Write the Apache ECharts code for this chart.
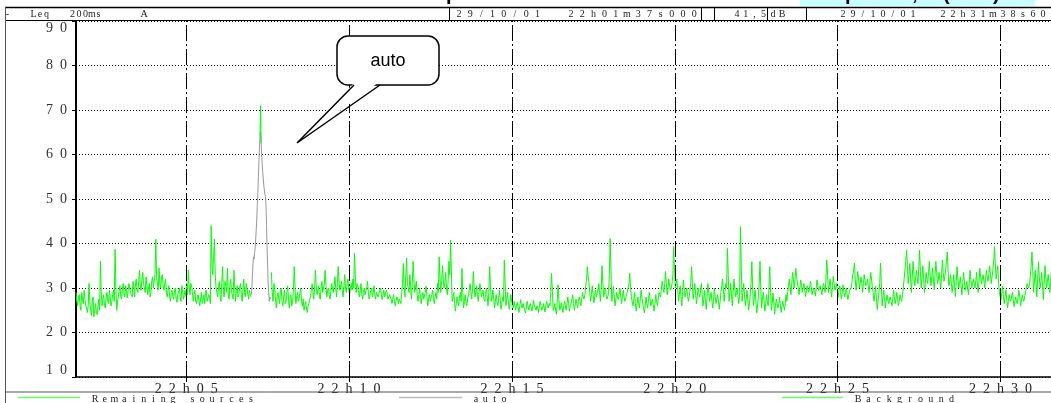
<!DOCTYPE html>
<html><head><meta charset="utf-8">
<script src="https://cdn.jsdelivr.net/npm/echarts@6/dist/echarts.min.js"></script>
<style>html,body{margin:0;padding:0;background:#fff;overflow:hidden}#c{width:1051px;height:403px}</style>
</head><body><div id="c"></div>
<script>
// ---- time frame (seconds after 22h00m00s) ----
const startSec = 97;       // 22h01m37s000
const endSec = 1898.6;     // 22h31m38s600
const stepSec = 3;         // main samples every 3 s, mid samples 1.5 s later
const xTickSec = [300, 600, 900, 1200, 1500, 1800];

// ---- Remaining sources, Leq dB(A) ----
const remainingA = [29,26,28.5,25,27.5,29.5,26, 24.5,31,25,27,23.5,26.5,24,27.5, 36, 26,28.5,25.5,29,26.5,28,27,
  29.5,38.7,25, 28,30.5,27.5,31,28,29.5,27.5,30,28.5,31.5,28,32,29,34,29.5,33.5,30,32.5,28.5,31,29,32.5,
  30,41,31, 34.5,30,33,29.5,32, 28,30.5,27,29.5,27.5,30,26.8,29,28,30.5,27.5,29.5, 31,34,28.5,30.5,
  27,29.5,26.5,28.5,26,29,27.5,26.5,29.5,27,28, 44,33,41,30, 28,31.5,27,34.8,28,30.5,34.5,27.5,32,28.5,34,27,30.5];
const remainingA2 = [27,28,26,29,26.5,27.5,25.5, 26,27,23.8,28,25,24.5,26,25, 29, 27.5,26,28,27,29.5,26,28.5,
  27,30,27, 29.5,28,30,28.5,30.5,27.8,31,29,28,30,31,29.5,31.5,30.5,32,31,29,30.5,30,28,31.5,30,
  33,32,29.5, 31,32.5,30.5,31,29, 29.5,28,29,28,29.5,27.5,28.5,30,27,29,28.5,28, 28.5,30,31,29,
  28.5,27,28,27,27.5,26.5,28.5,29,27,28.5,26.5, 35,37,33,29, 30,28.5,31,29,31.5,29,28.5,30.5,29,27.5,30,29.5,28];
const remainingB = [28.5,31,27,32,28,30,27.5,28.5, null,null,null,null,null,null,null,null,null,null,null,null,
  33.5,27,30.5,25.5,29,26.5,30, 26,29.5,27,30.5,25.5,28.5,27,34.8,26.5,29,27.5,30,26, 25,27,24.5,26.5,
  28,31,27.5,34,28.5,30.5,27.5,31.5,29,34,28,30,27.5,31, 29,32.5,28,34.8,29.5,31.5,28,33,29,32,28.5,31,
  32,37.8,29, 30.5,28,31,27.5,30,28.5,31.5,27.5,29.5,28,30.5,27.5,29,28,30,27.4,29.5,28,29,27.5,28.5,
  26.5,28.5,26,28,26.5,27.5];
const remainingB2 = [30,28.5,29.5,29,31,28.5,29.5,28, null,null,null,null,null,null,null,null,null,null,null,null,
  29,31,27.5,28,27.5,29,27, 28,26.5,29,27.5,28,26,29.5,30,28,27,29,27,27.5, 26,25.5,26,27.5,
  29.5,29,30,30.5,29.5,28,30,29,31,30.5,29.5,28.5,29.5,30, 30.5,30,31,31.5,30.5,29.5,30.5,30,31,29.5,30,29.5,
  30,33,31, 29,29.5,28.5,29,28.5,30,29,28.5,30,29,28.5,29,28,29.5,28.5,28.5,28,29.5,27.5,28.5,27.5,
  27.5,27,27,27.5,27.5,26.5];
const remainingC = [29,35.5,28,36.7,30,33,27.5,36,29,31.5, 27,30,26.5,29,27.5,30.4,26,28.5,27,29.5,26.5,29,
  31,37,29,35,30,33.5,28.5,36,40.7, 27,29,24.8,28,26,29,34.4,25.5,28.5,26, 28.5,31,27.5,33.7,28,30.5,27,31,28,29.5,
  27,30, 26,34.8,27,29.5,25.5,28.5,26,29.6,25.2,28, 36.3, 26,29,25.2,28.5,26.5,
  27,25,26.8,24.5,27.4,25.5,26.5,24.4,27,25,26.5,24.8,27.2,25.5,26,24.5,27,25,26.5,24.6,27,25.5,
  26,33.3, 25,26.5,24.1,30.7,25,26.7,24.5];
const remainingC2 = [31,30,33,31,29,30.5,31,32,30.5,28.5, 28.5,28,28,27.5,29,28,27.5,27,28.5,27.5,28,27.5,
  29,32,31.5,32,31,30,31.5,33,34, 28,26.5,26.5,27,28,27,29,27,26.5,27.5, 29.5,29,30,30,29,28.5,29,29.5,29,27.5,
  28.5,28, 29,31,28,27.5,27,27,27.5,27.5,26.5,27, 31, 27.5,27,26.5,27,25.5,
  26,26,25.5,26,26,26.5,25,25.5,26,26,25.5,26,26,25,25.5,26,26,25.5,25.5,26,26,26.5,
  29,29.5, 25.5,25,27,27.5,25.5,25.5,26];
const remainingD = [27,25,28,24.8, 26.5,28.5,25,27.5,25.5,28,26,29,27.5, 30.5,34.8,31,
  27,30.5,26.7,29.5,28,31,27,35,28,30,27.5, 29,41.1, 27,30.4,26,29,27.5,30,26.5,29.5,27,28.5, 30,33.3,28,
  26,29,24.8,28,25.5,29.6,26.5,24.4,28,25.5,29,26,27.5,24.8,28.5,26,29,
  28,31.5,29,33.7,28.5,32,29.5,31,39.3,30,32, 27,30.5,26,31.8,28,30,27,29.5,34.8,27.5,31,26.5,30,28,31,
  26,29.5,25.2,31,27,29,25.5,30,26.5,28.5,25.2, 29,32,27,31];
const remainingD2 = [26,26.5,26.5,26, 27.5,26.5,26,26.5,27,27,27.5,28,28.5, 32,32.5,29,
  28.5,28.5,28,28,29.5,29,30,31,29,28.5,28, 33,34, 28.5,28,27.5,28,28.5,28,28,28,27.5,29, 31,30.5,27,
  27.5,26.5,26.5,26.5,27.5,28,25.5,26,26.5,27,27.5,27,26,26.5,27,27.5,28.5,
  30,30,31,31,30,30.5,30,33,34,31,29.5, 28.5,28,29,29.5,29,28.5,28,31,31,29.5,28.5,28,29,29.5,28.5,
  27.5,27,28,29,28,27,27.5,28,27.5,27,27, 30.5,29.5,29,30];
const remainingE = [38.9, 27,31,26,32,28,30,26.5, 43.8, 27,31,26,29.5,
  25,28.5,35.9,26,29.6,24.4,28,36,25.5,29,24.8,28.5,26,34.8, 25,28.9,24.1,27.5,25.5,28,24.5,27,25,28.5,
  29,32,28.5,33.5,30,34.4,31, 28.5,31.8,29,31,28.1,30.5,29,31.5,28.5,30,28.2,31.8,29.5,30.5,28.5,31,29,
  36.3, 29,32,28,32.6,29.5,31,28,30.5, 27.5,30.7,28,30,27.4,29.5,
  30,33,35.6,29.5,33.7,30,32.5,29,33,30.5,32,29,33.5,30, 27,30.4,25.2,29,35.6,26,29.5,25.5,28.5,26.5];
const remainingE2 = [33, 29,28.5,29,30,29,28,29, 35, 29,28.5,27.5,27.5,
  26.5,31,30,28,27,26,31,30,27.5,27,26.5,27,30,29, 26.5,26.5,26,26.5,26.5,26,26,26,26.5,27,
  30.5,30,31,32,32,32.5,30, 30,30.5,30,29.5,29.5,29.5,30,30,29.5,29,30,30.5,30,29.5,30,30,32,
  33, 30.5,30,30.5,31,30,29.5,29.5,29, 29,29,29,28.5,28.5,29.5,
  31.5,34,32,31.5,32,31,31,31,31.5,31,30.5,31,32,29, 28.5,27.5,27,31,31,28,27.5,27,27.5,27.5];
const remainingF = [28,26,29.6,26.5,29,26,28.5,27, 30,34,38.5,31,35.5,29,36,30.5,34,31,38.5,30,35,29,33.5,31,36,
  30.5,34.5,29.6,36,31,33.5,30,36.3,31.5,34,38.1,30.5,33, 29,33,28.1,34.8,30,32.5,28.5,33.5,29.5,31.5,28.5,34,30,32,
  30,33.5,29,34.4,31,33,30,34,31.5,35,31,34,39.3,32,35, 29,27.4,30.4,
  26.5,29.6,25.5,28.5,27,29,25.8,28,26.5,29.5,26,28.5,27, 28.9,31,30,32.6, 38.1,
  29,34,28,35.9,30,33.5,27.4,35,30,33,29,34.5];
const remainingF2 = [27,27.5,28,27.5,27.5,27,27.5,28.5, 32,36,35,33,32,32.5,33,32,32.5,34.5,34,32.5,32,31,32,33.5,33,
  32.5,32,33,33.5,32,31.5,33,33.5,32.5,36,34,31.5,31, 31,30.5,31.5,32,31,30.5,31,31.5,30.5,30,31,32,31,31,
  31.5,31,31.5,32.5,32,31.5,32,32.5,33,33,32.5,36,35.5,33.5,31, 28,29,28,
  28,27.5,27,27.5,28,27.5,27,27,28,28,27,27.5,28, 30,30.5,31,35, 34,
  31.5,31,32,32.5,31.5,30.5,31,32.5,31.5,31,31.5,32];

// ---- "auto" event (car pass-by), one value per second ----
const autoStartSec = 420;
const autoStepSec = 1;
const autoDb = [28.5,30,33,35.5,37,36.5,38,39,41,43,45.5,48.5,51.5,55,58.5,62,64.5,65,62.5,60,58,56,54.5,53,
  52,51,50.5,49,44,39,35,31,29,27,28,27.5];
// green tip of the peak
const peakTimes = [436, 437, 438];
const peakDb = [64.5, 71, 62.5];

const remainingMain = [].concat(remainingA, remainingB, remainingC, remainingD, remainingE, remainingF);
const remainingMid = [].concat(remainingA2, remainingB2, remainingC2, remainingD2, remainingE2, remainingF2);
const remainingData = [];
remainingMain.forEach((v, i) => {
  const t = startSec + stepSec * i;
  remainingData.push([t, v]);
  remainingData.push([t + stepSec / 2, remainingMid[i]]);
});
const autoData = autoDb.map((v, i) => [autoStartSec + autoStepSec * i, v]);
const peakData = peakTimes.map((t, i) => [t, peakDb[i]]);

const SERIF = 'Liberation Serif, Times New Roman, serif';
const SANS = 'Liberation Sans, Arial, sans-serif';
const spaced = s => String(s).split('').join('\u2002');

function spacedText(str, x0, pitch, y, size, color) {
  const out = [];
  str.split('').forEach((ch, k) => {
    if (ch === ' ') return;
    out.push({ type: 'text', z: 100, silent: true,
      style: { text: ch, x: x0 + k * pitch, y: y, align: 'center', verticalAlign: 'middle',
        font: size + 'px ' + SERIF, fill: color } });
  });
  return out;
}
function hline(x1, x2, y, color, w) {
  return { type: 'line', z: 100, silent: true, shape: { x1: x1, y1: y, x2: x2, y2: y }, style: { stroke: color, lineWidth: w } };
}
function vline(x, y1, y2, color, w) {
  return { type: 'line', z: 100, silent: true, shape: { x1: x, y1: y1, x2: x, y2: y2 }, style: { stroke: color, lineWidth: w } };
}

const graphics = [].concat(
  [
    { type: 'rect', z: 99, silent: true, shape: { x: 800, y: 0, width: 235, height: 6 }, style: { fill: '#c6ffff' } },
    hline(5, 1051, 7.5, '#000', 1.5),
    hline(5, 1051, 20.5, '#000', 1),
    vline(5.5, 7, 403, '#555', 1),
    vline(449.5, 7, 20, '#000', 1), vline(701.5, 7, 20, '#000', 1), vline(714.5, 7, 20, '#000', 1),
    vline(767.5, 7, 20, '#000', 1), vline(806.5, 7, 20, '#000', 1),
    hline(5, 1051, 392, '#555', 1),
    hline(18, 80, 397.5, '#66ff66', 1.5),
    hline(399, 462, 397.5, '#bbbbbb', 1.5),
    hline(782, 843, 397.5, '#66ff66', 1.5)
  ],
  // clipped title glyphs at the very top
  ['p', ',', '(', ')', 'p'].map((ch, k) => ({ type: 'text', z: 100, silent: true,
    style: { text: ch, x: [845, 912, 943, 993, 446][k], y: 4, align: 'left', verticalAlign: 'bottom',
      font: 'bold 20px ' + SANS, fill: '#000' } })),
  spacedText('-   Leq   200ms      A', 7.5, 6.5, 14, 10, '#222'),
  spacedText('29/10/01  22h01m37s000', 459, 11.2, 14, 10, '#222'),
  spacedText('41,5', 737, 8.8, 14, 10, '#222'),
  spacedText('dB', 773, 9, 14, 10, '#222'),
  spacedText('29/10/01  22h31m38s600', 843, 10, 14, 10, '#222'),
  spacedText('Remaining sources', 95, 9.75, 399, 10, '#222'),
  spacedText('auto', 476, 9.3, 399, 10, '#222'),
  spacedText('Background', 858, 10.4, 399, 10, '#222'),
  [
    { type: 'rect', z: 101, silent: true, shape: { x: 337, y: 36, width: 102, height: 49, r: 11 },
      style: { fill: '#fff', stroke: '#000', lineWidth: 1.5 } },
    { type: 'polygon', z: 102, silent: true, shape: { points: [[355, 82], [297, 143], [379, 82]] },
      style: { fill: '#fff' } },
    { type: 'polyline', z: 103, silent: true, shape: { points: [[354, 85], [297, 143], [380, 85]] },
      style: { stroke: '#000', lineWidth: 1.5, fill: null } },
    { type: 'text', z: 104, silent: true,
      style: { text: 'auto', x: 388, y: 61, align: 'center', verticalAlign: 'middle', font: '18px ' + SANS, fill: '#000' } }
  ]
);

const chart = echarts.init(document.getElementById('c'), null, { renderer: 'canvas' });
chart.setOption({
  animation: false,
  backgroundColor: '#fff',
  grid: { left: 76, top: 21, width: 978, height: 356, containLabel: false, outerBoundsMode: 'none' },
  xAxis: {
    type: 'value', min: startSec, max: endSec,
    axisLine: { show: true, onZero: false, lineStyle: { color: '#000', width: 1.5 } },
    axisTick: { show: true, customValues: xTickSec, length: 5, lineStyle: { color: '#000' } },
    axisLabel: { customValues: xTickSec, margin: 5, fontFamily: SERIF, fontSize: 14, color: '#222',
      formatter: v => spaced('22h' + String(Math.round(v / 60)).padStart(2, '0')) },
    splitLine: { show: false }
  },
  yAxis: {
    type: 'value', min: 10, max: 90, interval: 10,
    axisLine: { show: true, lineStyle: { color: '#000', width: 2 } },
    axisTick: { show: true, length: 4, lineStyle: { color: '#000' } },
    axisLabel: { margin: 9, fontFamily: SERIF, fontSize: 14, color: '#333', formatter: v => spaced(v),
      verticalAlignMinLabel: 'bottom', verticalAlignMaxLabel: 'top' },
    splitLine: { show: true, lineStyle: { color: '#000', width: 1, type: [1, 2] } }
  },
  series: [
    { name: 'Remaining sources', type: 'line', data: remainingData, showSymbol: false, symbol: 'none',
      connectNulls: false, sampling: null, lineStyle: { color: '#00ff00', width: 1 }, itemStyle: { color: '#00ff00' },
      z: 2,
      markLine: { silent: true, symbol: 'none', label: { show: false }, animation: false,
        lineStyle: { color: '#000', width: 1, type: [16, 3, 2, 3] },
        data: xTickSec.map(v => ({ xAxis: v })) } },
    { name: 'auto', type: 'line', data: autoData, showSymbol: false, symbol: 'none',
      lineStyle: { color: '#999999', width: 1 }, itemStyle: { color: '#999999' }, z: 3 },
    { name: 'Remaining sources', type: 'line', data: peakData, showSymbol: false, symbol: 'none',
      lineStyle: { color: '#00ff00', width: 1 }, itemStyle: { color: '#00ff00' }, z: 4 },
    { name: 'Background', type: 'line', data: [], lineStyle: { color: '#66ff66' } }
  ],
  graphic: { elements: graphics }
});
</script>
</body></html>
